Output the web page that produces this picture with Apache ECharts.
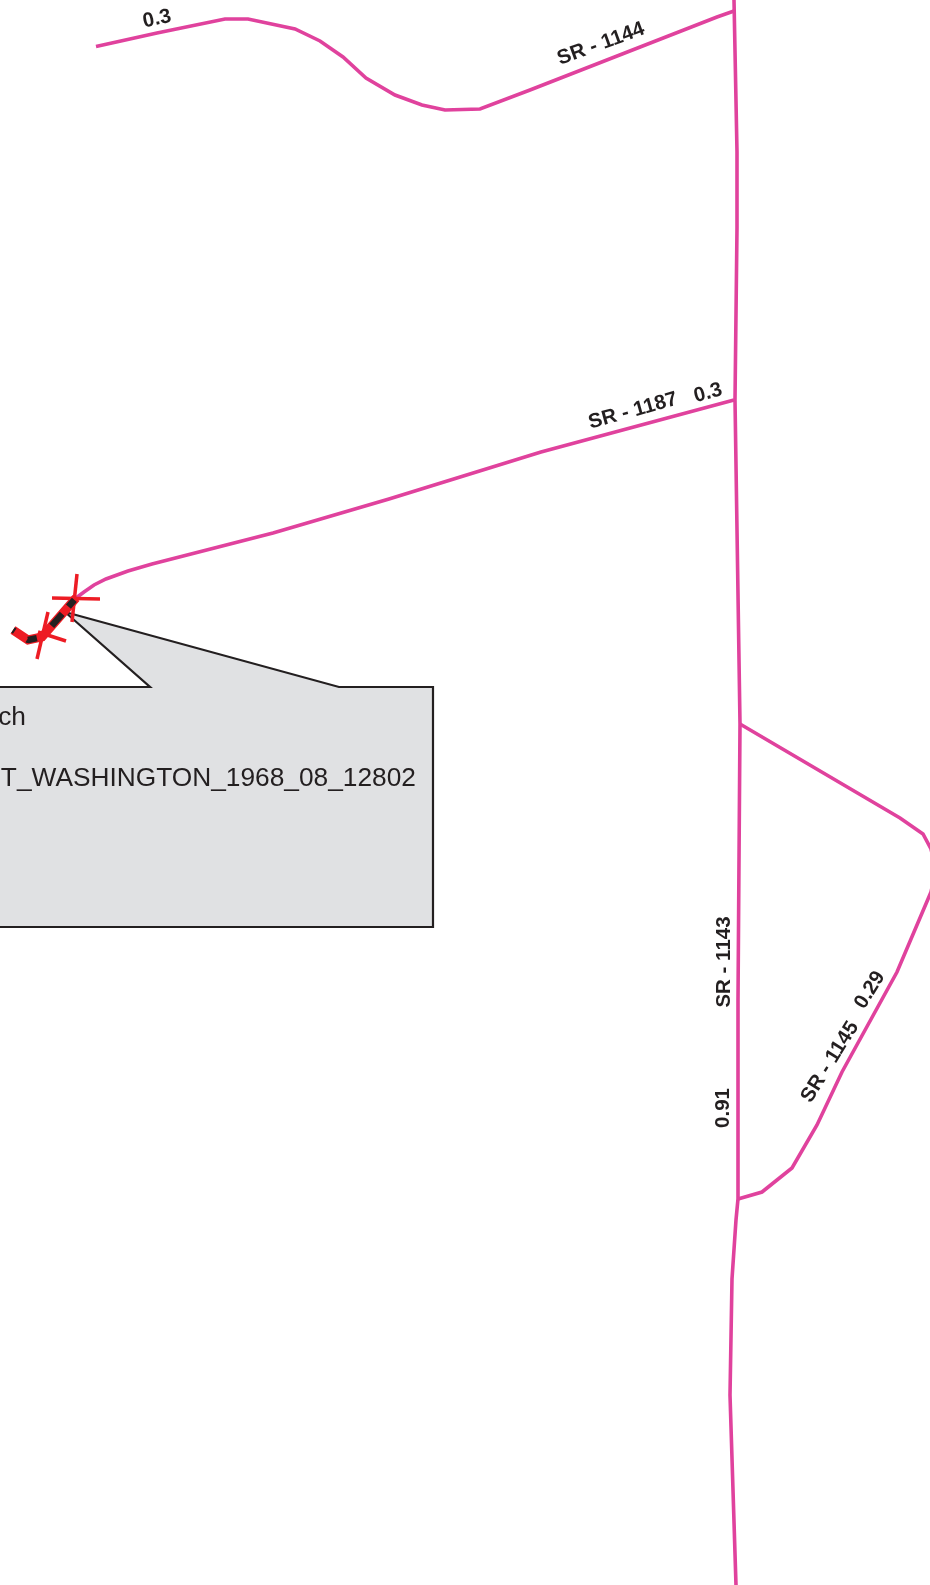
<!DOCTYPE html>
<html><head><meta charset="utf-8">
<style>html,body{margin:0;padding:0;background:#fff}#c{width:930px;height:1585px}</style>
<script src="https://cdn.jsdelivr.net/npm/echarts@6/dist/echarts.min.js"></script>
</head><body><div id="c"></div>
<script>
const sr1144 = [[96,46.5],[157,33],[225,19],[248,19],[295,29],[320,41],[343,57],[366,78],[395,95],[422,105],[445,110],[480,109],[530,90],[717,17],[734,11]];
const sr1143 = [[734,0],[737,152],[737,228],[735,400],[740,724],[739,860],[738,1000],[738,1199],[736,1220],[732,1279],[730,1395],[736,1585]];
const sr1187 = [[734,400],[541,452],[389,499],[273,533],[152,564],[128,571],[106,579],[94,585],[84,592],[76,598]];
const sr1145 = [[740,724],[900,818],[923,834],[931,849],[936,870],[931,892],[897,972],[842,1072],[817,1125],[792,1168],[762,1192],[738,1199]];
const bridgeLine = [[76,598],[42,637],[28,640],[13,630]];
const crossA = [[[77,574],[72,622]],[[52,598],[100,599]]];
const crossB = [[[48,612],[37,659]],[[38,632],[66,641]]];
const callout = [[65,612],[150,687],[-10,687],[-10,927],[433,927],[433,687],[339,687]];
const labels = [
  ['0.3',157,19,12],['SR - 1144',601,44,20],['SR - 1187',633,411,15.5],['0.3',708,393,15],
  ['SR - 1143',724,962,90],['0.91',723,1108,90],['SR - 1145',830,1062,58],['0.29',870,990,58]
];
const calloutText = [['ch',26,718],['T_WASHINGTON_1968_08_12802',416,779]];
const PINK='#e0429d', RED='#ed1c24', INK='#231f20';

const line=(data,color,width,extra)=>Object.assign({type:'line',data,symbol:'none',silent:true,animation:false,
  lineStyle:{color,width,cap:'butt',join:'miter'}},extra||{});
const chart=echarts.init(document.getElementById('c'),null,{renderer:'canvas'});
chart.setOption({
  animation:false,
  backgroundColor:'#ffffff',
  grid:{left:0,right:0,top:0,bottom:0},
  xAxis:{type:'value',min:0,max:930,show:false},
  yAxis:{type:'value',min:0,max:1585,inverse:true,show:false},
  series:[
    {type:'custom',silent:true,animation:false,clip:true,data:[0],z:1,
      renderItem:(p,api)=>({type:'polygon',shape:{points:callout.map(c=>api.coord(c))},
        style:{fill:'#e0e1e3',stroke:INK,lineWidth:2.2,lineJoin:'miter'}})},
    line(sr1144,PINK,3.6,{z:2}),line(sr1143,PINK,3.6,{z:2}),line(sr1187,PINK,3.6,{z:2}),line(sr1145,PINK,3.6,{z:2}),
    line(bridgeLine,RED,9,{z:3}),
    ...crossA.concat(crossB).map(s=>line(s,RED,3.5,{z:4})),
    line(bridgeLine,INK,6.5,{z:5,lineStyle:{color:INK,width:6.5,type:[0,2.5,9,9.5,16,20,10,15,6,20],cap:'butt'}}),
    {type:'scatter',silent:true,animation:false,symbolSize:0,z:6,itemStyle:{opacity:1},
      data:labels.map(l=>({value:[l[1],l[2]],name:l[0],
        label:{show:true,position:'inside',formatter:l[0],rotate:l[3],align:'center',verticalAlign:'middle',opacity:1,
          color:INK,fontFamily:'"Liberation Sans"',fontWeight:'bold',fontSize:20.5}}))},
    {type:'scatter',silent:true,animation:false,symbolSize:0,z:6,itemStyle:{opacity:1},
      data:calloutText.map(l=>({value:[l[1],l[2]],name:l[0],
        label:{show:true,position:'inside',formatter:l[0],align:'right',verticalAlign:'middle',opacity:1,
          color:INK,fontFamily:'"Liberation Sans"',fontSize:26.3}}))}
  ]
});
</script></body></html>
